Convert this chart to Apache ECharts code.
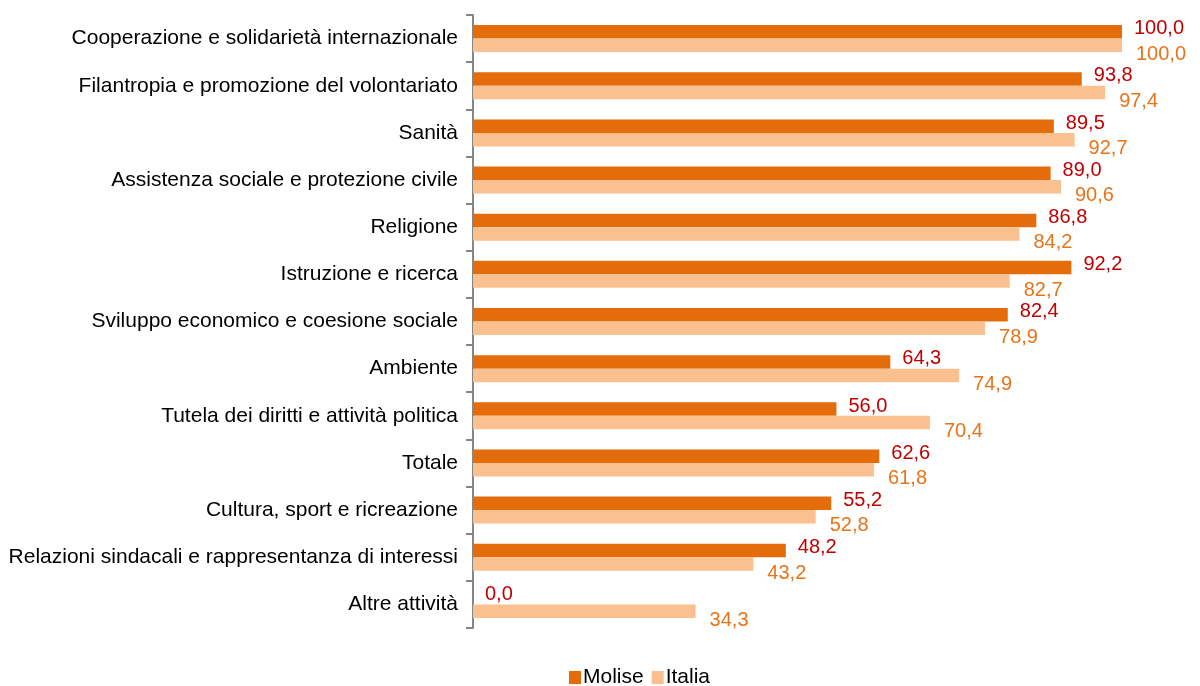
<!DOCTYPE html>
<html>
<head>
<meta charset="utf-8">
<script src="https://cdn.jsdelivr.net/npm/echarts@6/dist/echarts.min.js"></script>
<style>
  html, body { margin: 0; padding: 0; background: #fff; }
  #chart { width: 1200px; height: 686px; }
</style>
</head>
<body>
<div id="chart"></div>
<script>
const categories = [
  "Cooperazione e solidarietà internazionale",
  "Filantropia e promozione del volontariato",
  "Sanità",
  "Assistenza sociale e protezione civile",
  "Religione",
  "Istruzione e ricerca",
  "Sviluppo economico e coesione sociale",
  "Ambiente",
  "Tutela dei diritti e attività politica",
  "Totale",
  "Cultura, sport e ricreazione",
  "Relazioni sindacali e rappresentanza di interessi",
  "Altre attività"
];
const molise = [100.0, 93.8, 89.5, 89.0, 86.8, 92.2, 82.4, 64.3, 56.0, 62.6, 55.2, 48.2, 0.0];
const italia = [100.0, 97.4, 92.7, 90.6, 84.2, 82.7, 78.9, 74.9, 70.4, 61.8, 52.8, 43.2, 34.3];

// valori con la virgola decimale
const fmt = (p) => p.value.toFixed(1).replace(".", ",");

const chart = echarts.init(document.getElementById("chart"));
chart.setOption({
  animation: false,
  textStyle: { fontFamily: "Liberation Sans, Arial, sans-serif" },
  grid: { left: 473, right: 78, top: 15, bottom: 58, containLabel: false },
  legend: {
    top: 662,
    left: 564,
    itemWidth: 12,
    itemHeight: 13,
    itemGap: 8,
    icon: "rect",
    textStyle: { fontSize: 21, color: "#000", padding: [0, 0, 0, -3] },
    data: ["Molise", "Italia"]
  },
  xAxis: {
    type: "value",
    min: 0,
    max: 100,
    show: false
  },
  yAxis: {
    type: "category",
    inverse: true,
    data: categories,
    axisLine: { show: true, lineStyle: { color: "#868686", width: 2 } },
    axisTick: { show: true, inside: false, length: 7, lineStyle: { color: "#868686", width: 2 } },
    axisLabel: { fontSize: 21, color: "#000", margin: 15 },
    splitLine: { show: false }
  },
  series: [
    {
      name: "Molise",
      type: "bar",
      data: molise,
      barWidth: 13.5,
      barGap: "0%",
      itemStyle: { color: "#E46C0A" },
      label: {
        show: true,
        position: "right",
        distance: 12,
        offset: [0, -3],
        fontSize: 20,
        color: "#C00000",
        formatter: fmt
      }
    },
    {
      name: "Italia",
      type: "bar",
      data: italia,
      barWidth: 13.5,
      barGap: "0%",
      itemStyle: { color: "#FAC090" },
      label: {
        show: true,
        position: "right",
        distance: 14,
        offset: [0, 9],
        fontSize: 20,
        color: "#E8741A",
        formatter: fmt
      }
    }
  ]
});
</script>
</body>
</html>
